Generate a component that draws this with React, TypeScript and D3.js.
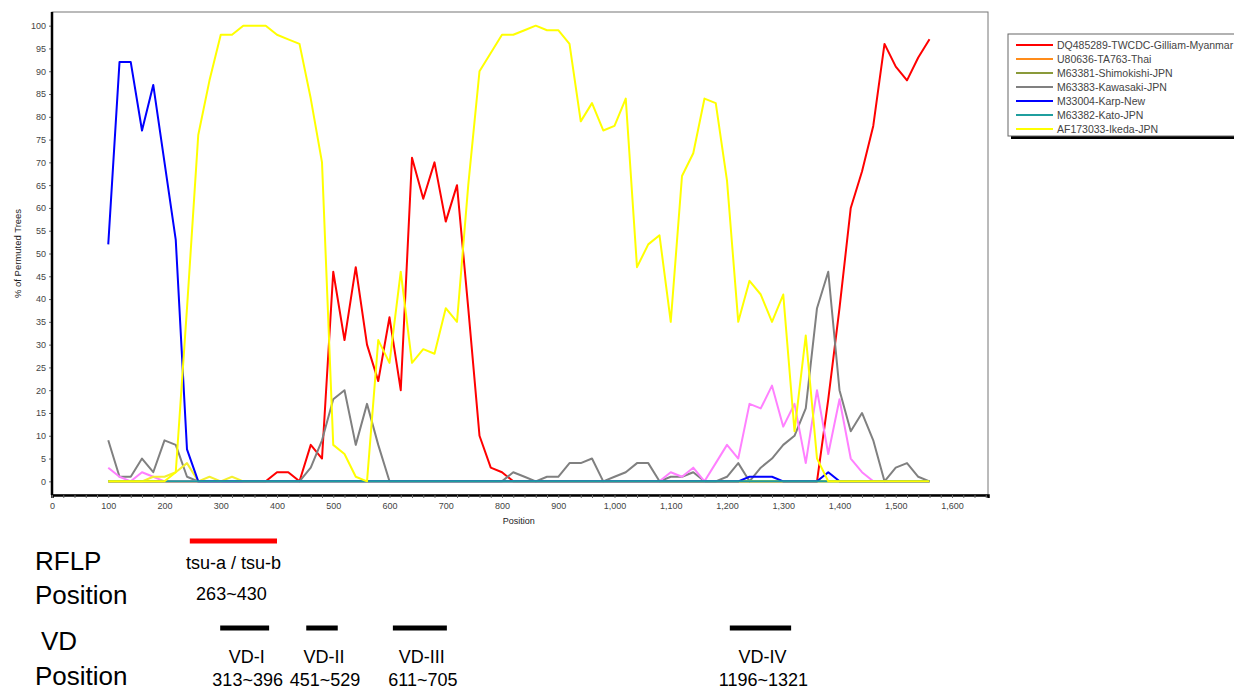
import React, { useEffect, useRef } from "react";
import * as d3 from "d3";

const positions = [
  100, 120, 140, 160, 180, 200, 220, 240, 260, 280, 300, 320, 340, 360, 380, 400, 420, 440, 460, 480,
  500, 520, 540, 560, 580, 600, 620, 640, 660, 680, 700, 720, 740, 760, 780, 800, 820, 840, 860, 880,
  900, 920, 940, 960, 980, 1000, 1020, 1040, 1060, 1080, 1100, 1120, 1140, 1160, 1180, 1200, 1220, 1240,
  1260, 1280, 1300, 1320, 1340, 1360, 1380, 1400, 1420, 1440, 1460, 1480, 1500, 1520, 1540, 1560
];

const gilliam = [
  0, 0, 0, 0, 0, 0, 0, 0, 0, 0, 0, 0, 0, 0,
  0, 2, 2, 0, 8, 5, 46, 31, 47, 30, 22, 36, 20, 71, 62, 70, 57, 65, 38, 10, 3, 2, 0,
  0, 0, 0, 0, 0, 0, 0, 0, 0, 0, 0, 0, 0, 0, 0, 0, 0, 0, 0, 0, 0, 0, 0, 0, 0, 0,
  0, 18, 38, 60, 68, 78, 96, 91, 88, 93, 97
];
const ta763 = [
  0, 0, 0, 0, 0, 0, 0, 0, 0, 0, 0, 0, 0, 0, 0, 0, 0, 0, 0, 0, 0, 0, 0, 0, 0, 0, 0, 0, 0, 0, 0, 0, 0, 0, 0, 0, 0,
  0, 0, 0, 0, 0, 0, 0, 0, 0, 0, 0, 0, 0, 0, 0, 0, 0, 0, 0, 0, 0, 0, 0, 0, 0, 0, 0, 0, 0, 0, 0, 0, 0, 0, 0, 0, 0
];
const shimokishi = [
  0, 0, 0, 0, 0, 0, 0, 0, 0, 0, 0, 0, 0, 0, 0, 0, 0, 0, 0, 0, 0, 0, 0, 0, 0, 0, 0, 0, 0, 0, 0, 0, 0, 0, 0, 0, 0,
  0, 0, 0, 0, 0, 0, 0, 0, 0, 0, 0, 0, 0, 0, 0, 0, 0, 0, 0, 0, 0, 0, 0, 0, 0, 0, 0, 0, 0, 0, 0, 0, 0, 0, 0, 0, 0
];
const kawasaki = [
  9, 1, 1, 5, 2, 9, 8, 1, 0,
  0, 0, 0, 0, 0, 0, 0, 0, 0,
  3, 9, 18, 20, 8, 17, 8, 0,
  0, 0, 0, 0, 0, 0, 0, 0, 0,
  0, 2, 1, 0, 1, 1, 4, 4, 5, 0, 1, 2, 4, 4, 0, 1, 1, 2, 0, 0, 1, 4, 0, 3, 5, 8, 10, 16,
  38, 46, 20, 11, 15, 9, 0, 3, 4, 1, 0
];
// two traces that are plotted but not listed in the legend
const unlistedPink = [
  3, 1, 0, 2, 1, 0,
  0, 0, 0, 0, 0, 0, 0, 0, 0, 0, 0, 0, 0, 0, 0, 0, 0, 0, 0, 0, 0, 0, 0, 0, 0, 0,
  0, 0, 0, 0, 0, 0, 0, 0, 0, 0, 0, 0, 0, 0, 0, 0, 0, 0,
  2, 1, 3, 0, 4, 8, 5, 17, 16, 21, 12, 17, 4, 20, 6, 18, 5, 2, 0,
  0, 0, 0, 0, 0
];
const unlistedYellow = [
  0, 0, 0, 0, 1, 1, 2, 4, 0, 1, 0, 1, 0, 0, 0, 0, 0, 0, 0, 0, 0, 0, 0, 0, 0, 0, 0, 0, 0, 0, 0, 0, 0, 0, 0, 0, 0,
  0, 0, 0, 0, 0, 0, 0, 0, 0, 0, 0, 0, 0, 0, 0, 0, 0, 0, 0, 0, 0, 0, 0, 0, 0, 0, 0, 0, 0, 0, 0, 0, 0, 0, 0, 0, 0
];
const karp = [
  52, 92, 92, 77, 87, 70, 53, 7, 0,
  0, 0, 0, 0, 0, 0, 0, 0, 0, 0, 0, 0, 0, 0, 0, 0, 0, 0, 0, 0, 0, 0, 0, 0, 0, 0, 0, 0,
  0, 0, 0, 0, 0, 0, 0, 0, 0, 0, 0, 0, 0, 0, 0, 0, 0, 0, 0, 0,
  1, 1, 1, 0, 0, 0, 0, 2, 0,
  0, 0, 0, 0, 0, 0, 0, 0
];
const kato = [
  0, 0, 0, 0, 0, 0, 0, 0, 0, 0, 0, 0, 0, 0, 0, 0, 0, 0, 0, 0, 0, 0, 0, 0, 0, 0, 0, 0, 0, 0, 0, 0, 0, 0, 0, 0, 0,
  0, 0, 0, 0, 0, 0, 0, 0, 0, 0, 0, 0, 0, 0, 0, 0, 0, 0, 0, 0, 0, 0, 0, 0, 0, 0, 0, 0, 0, 0, 0, 0, 0, 0, 0, 0, 0
];
const ikeda = [
  0, 0, 0, 0, 0, 0, 2, 38, 76, 88, 98, 98, 100, 100, 100, 98, 97, 96, 84, 70,
  8, 6, 1, 0, 31, 26, 46, 26, 29, 28, 38, 35, 65, 90, 94, 98, 98, 99, 100, 99,
  99, 96, 79, 83, 77, 78, 84, 47, 52, 54, 35, 67, 72, 84, 83, 66, 35, 44, 41, 35,
  41, 11, 32, 5, 0, 0, 0, 0, 0, 0, 0, 0, 0, 0
];

const seriesNames = [
  "DQ485289-TWCDC-Gilliam-Myanmar",
  "U80636-TA763-Thai",
  "M63381-Shimokishi-JPN",
  "M63383-Kawasaki-JPN",
  "M33004-Karp-New",
  "M63382-Kato-JPN",
  "AF173033-Ikeda-JPN"
];
const seriesColors = ["#ff0000", "#ff8c1a", "#8a9a3a", "#808080", "#0000ff", "#1f9e9e", "#ffff00"];
const seriesValues = [gilliam, ta763, shimokishi, kawasaki, karp, kato, ikeda];
const pinkColor = "#ff80ff";
const paleYellow = "#f4f030";

// regions drawn under the plot: labels, and the span each bar covers on the position axis
const rflpLabels = ["tsu-a / tsu-b"];
const rflpText = ["263~430"];
const rflpSpans = [[245, 400]];
const vdLabels = ["VD-I", "VD-II", "VD-III", "VD-IV"];
const vdText = ["313~396", "451~529", "611~705", "1196~1321"];
const vdSpans = [[299, 386], [452, 508], [606, 702], [1205, 1314]];

const W = 1234;
const H = 691;
const margin = { left: 52, right: 246, top: 12, bottom: 196 };

const drawChart = (el: SVGSVGElement) => {
  const svg = d3.select(el);
  svg.selectAll("*").remove();

  const x = d3.scaleLinear().domain([0, 1664]).range([margin.left, W - margin.right]);
  const y = d3.scaleLinear().domain([-3, 103]).range([H - margin.bottom, margin.top]);
  const font = "'Liberation Sans', Arial, sans-serif";

  svg.append("rect").attr("width", W).attr("height", H).attr("fill", "#fff");

  // frame
  svg.append("rect")
    .attr("x", x(0)).attr("y", margin.top)
    .attr("width", x(1664) - x(0)).attr("height", y(-3) - margin.top)
    .attr("fill", "none").attr("stroke", "#777").attr("stroke-width", 1);

  const line = d3.line<number>()
    .x((d, i) => x(positions[i]))
    .y(d => y(d));

  const drawSeries = (vals: number[], color: string) => {
    svg.append("path")
      .datum(vals)
      .attr("fill", "none")
      .attr("stroke", color)
      .attr("stroke-width", 2)
      .attr("stroke-linejoin", "round")
      .attr("d", line);
  };

  [0, 1, 2, 3].forEach(i => drawSeries(seriesValues[i], seriesColors[i]));
  drawSeries(unlistedPink, pinkColor);
  drawSeries(unlistedYellow, paleYellow);
  [4, 5, 6].forEach(i => drawSeries(seriesValues[i], seriesColors[i]));

  // axes
  const xAxis = d3.axisBottom(x)
    .tickValues(d3.range(0, 1661, 20))
    .tickSize(3)
    .tickFormat(d => (+d % 100 === 0 ? d3.format(",")(+d) : ""));
  const gx = svg.append("g").attr("transform", `translate(0,${y(-3)})`).call(xAxis);
  gx.select(".domain").attr("stroke", "#000").attr("stroke-width", 2.5);
  gx.selectAll(".tick line").attr("stroke", "#666");
  gx.selectAll("text").attr("font-family", font).attr("font-size", 9).attr("fill", "#444").attr("dy", "0.9em");

  const yAxis = d3.axisLeft(y).tickValues(d3.range(0, 101, 5)).tickSize(3).tickPadding(3);
  const gy = svg.append("g").attr("transform", `translate(${x(0)},0)`).call(yAxis);
  gy.select(".domain").remove();
  svg.append("line")
    .attr("x1", x(0)).attr("x2", x(0)).attr("y1", margin.top).attr("y2", y(-3))
    .attr("stroke", "#000").attr("stroke-width", 2.5);
  gy.selectAll(".tick line").attr("stroke", "#666");
  gy.selectAll("text").attr("font-family", font).attr("font-size", 9).attr("fill", "#444");

  svg.append("text")
    .attr("x", x(830)).attr("y", 524)
    .attr("text-anchor", "middle")
    .attr("font-family", font).attr("font-size", 9).attr("fill", "#222")
    .text("Position");

  svg.append("text")
    .attr("transform", `translate(21,${(y(-3) + margin.top) / 2}) rotate(-90)`)
    .attr("text-anchor", "middle")
    .attr("font-family", font).attr("font-size", 9.5).attr("fill", "#222")
    .text("% of Permuted Trees");

  // legend
  const lg = svg.append("g").attr("transform", "translate(1008,34)");
  lg.append("rect").attr("x", 3).attr("y", 3).attr("width", 240).attr("height", 102).attr("fill", "#000");
  lg.append("rect").attr("width", 240).attr("height", 102).attr("fill", "#fff").attr("stroke", "#666");
  seriesNames.forEach((name, i) => {
    const yy = 11 + i * 14;
    lg.append("line")
      .attr("x1", 8).attr("x2", 45).attr("y1", yy).attr("y2", yy)
      .attr("stroke", seriesColors[i]).attr("stroke-width", 2);
    lg.append("text")
      .attr("x", 49).attr("y", yy + 3.5)
      .attr("font-family", font).attr("font-size", 10.5).attr("fill", "#444")
      .text(name);
  });

  // annotation rows
  const big = 26;
  const small = 18;
  const rowLabels = [["RFLP", 570], ["Position", 604], ["VD", 650], ["Position", 685]];
  rowLabels.forEach(([t, yy], i) => {
    svg.append("text")
      .attr("x", i === 2 ? 41 : 35).attr("y", yy as number)
      .attr("font-family", font).attr("font-size", big).attr("fill", "#000")
      .text(t as string);
  });

  rflpSpans.forEach((r, i) => {
    svg.append("line")
      .attr("x1", x(r[0])).attr("x2", x(r[1])).attr("y1", 541).attr("y2", 541)
      .attr("stroke", "#ff0000").attr("stroke-width", 5);
    const cx = (x(r[0]) + x(r[1])) / 2;
    svg.append("text").attr("x", cx).attr("y", 569).attr("text-anchor", "middle")
      .attr("font-family", font).attr("font-size", small).text(rflpLabels[i]);
    svg.append("text").attr("x", cx - 2).attr("y", 600).attr("text-anchor", "middle")
      .attr("font-family", font).attr("font-size", small).text(rflpText[i]);
  });

  vdSpans.forEach((r, i) => {
    svg.append("line")
      .attr("x1", x(r[0])).attr("x2", x(r[1])).attr("y1", 628).attr("y2", 628)
      .attr("stroke", "#000").attr("stroke-width", 5);
    const cx = (x(r[0]) + x(r[1])) / 2;
    svg.append("text").attr("x", cx + 2).attr("y", 663).attr("text-anchor", "middle")
      .attr("font-family", font).attr("font-size", small).text(vdLabels[i]);
    svg.append("text").attr("x", cx + 3).attr("y", 686).attr("text-anchor", "middle")
      .attr("font-family", font).attr("font-size", small).text(vdText[i]);
  });
};

const App = () => {
  const ref = useRef<SVGSVGElement>(null);
  useEffect(() => {
    document.body.style.margin = "0";
    if (ref.current) drawChart(ref.current);
  }, []);
  return <svg ref={ref} width={W} height={H} style={{ display: "block" }}></svg>;
};

export default App;
